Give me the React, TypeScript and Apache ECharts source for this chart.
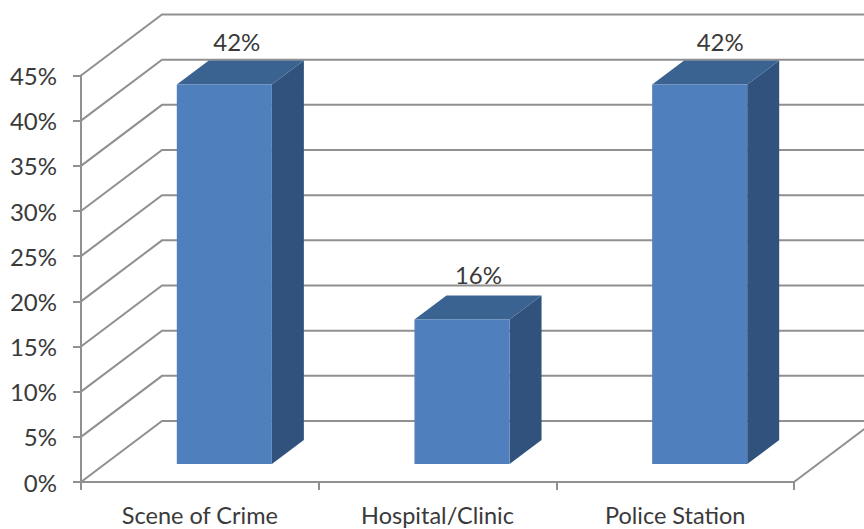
import React, { useEffect, useRef } from "react";
import * as echarts from "echarts";

const categories = ["Scene of Crime", "Hospital/Clinic", "Police Station"];
const shares = [42, 16, 42];
const gridValues = [0, 5, 10, 15, 20, 25, 30, 35, 40, 45];

const LINE = "#909090";
const FONT = "Lato, Carlito, sans-serif";
const TEXT = "#3a3a3a";
const FLOOR_DX = 81;
const FLOOR_DY = 61;
const RIGHT_EDGE = 880;

export default function App() {
  const ref = useRef<HTMLDivElement>(null);
  useEffect(() => {
    const chart = echarts.init(ref.current!, undefined, { renderer: "svg" });
    chart.setOption({
      animation: false,
      backgroundColor: "#ffffff",
      grid: { left: 81, right: 70, top: 75.5, bottom: 47, containLabel: false },
      xAxis: {
        type: "category",
        data: categories,
        axisLine: { show: true, lineStyle: { color: LINE, width: 2 } },
        axisTick: { show: true, length: 8, lineStyle: { color: LINE, width: 2 } },
        axisLabel: { color: TEXT, fontFamily: FONT, fontSize: 23.5, margin: 22, lineHeight: 22, interval: 0 },
      },
      yAxis: {
        type: "value",
        min: 0,
        max: 45,
        interval: 5,
        splitLine: { show: false },
        axisLine: { show: true, lineStyle: { color: LINE, width: 2 } },
        axisTick: { show: true, length: 8, lineStyle: { color: LINE, width: 2 } },
        axisLabel: { color: TEXT, fontFamily: FONT, fontSize: 24, margin: 24, formatter: "{value}%" },
      },
      series: [
        {
          type: "custom",
          silent: true,
          z: 1,
          clip: false,
          data: gridValues.map((v) => [0, v]),
          renderItem: (params: any, api: any) => {
            const cs = params.coordSys;
            const y = api.coord([0, api.value(1)])[1];
            const points = [
              [cs.x, y],
              [cs.x + FLOOR_DX, y - FLOOR_DY],
              [RIGHT_EDGE, y - FLOOR_DY],
            ];
            const children: any[] = [
              { type: "polyline", shape: { points }, style: { stroke: LINE, lineWidth: 2, fill: "none" } },
            ];
            if (api.value(1) === 0) {
              const rx = cs.x + cs.width;
              children.push({
                type: "line",
                shape: { x1: rx, y1: y, x2: rx + FLOOR_DX, y2: y - FLOOR_DY },
                style: { stroke: LINE, lineWidth: 2 },
              });
            }
            return { type: "group", children };
          },
        },
        {
          type: "custom",
          silent: true,
          z: 2,
          clip: false,
          data: shares.map((v, i) => [i, v]),
          renderItem: (_params: any, api: any) => {
            const idx = api.value(0);
            const val = api.value(1);
            const [cx, top0] = api.coord([idx, val]);
            const base0 = api.coord([idx, 0])[1];
            const bw = api.size([1, 0])[0] * 0.4;
            const sx = 24.5;
            const sy = 18;
            const dx = 32;
            const dy = 24;
            const l = cx + sx - bw / 2;
            const r = l + bw;
            const top = top0 - sy;
            const base = base0 - sy;
            return {
              type: "group",
              children: [
                {
                  type: "polygon",
                  shape: { points: [[r, base], [r + dx, base - dy], [r + dx, top - dy], [r, top]] },
                  style: { fill: "#30527c" },
                },
                {
                  type: "polygon",
                  shape: { points: [[l, top], [l + dx, top - dy], [r + dx, top - dy], [r, top]] },
                  style: { fill: "#3b6391" },
                },
                {
                  type: "rect",
                  shape: { x: l, y: top, width: bw, height: base - top },
                  style: { fill: "#4f80bd" },
                },
                {
                  type: "text",
                  style: {
                    text: `${val}%`,
                    x: cx + sx + 12.5 + idx * 4,
                    y: top - 43 - (42 - val) * 0.08,
                    align: "center",
                    verticalAlign: "middle",
                    fill: TEXT,
                    font: `24px ${FONT}`,
                  },
                },
              ],
            };
          },
        },
      ],
    });
    return () => chart.dispose();
  }, []);
  return <div ref={ref} style={{ position: "fixed", left: 0, top: 0, width: 864, height: 529 }} />;
}
